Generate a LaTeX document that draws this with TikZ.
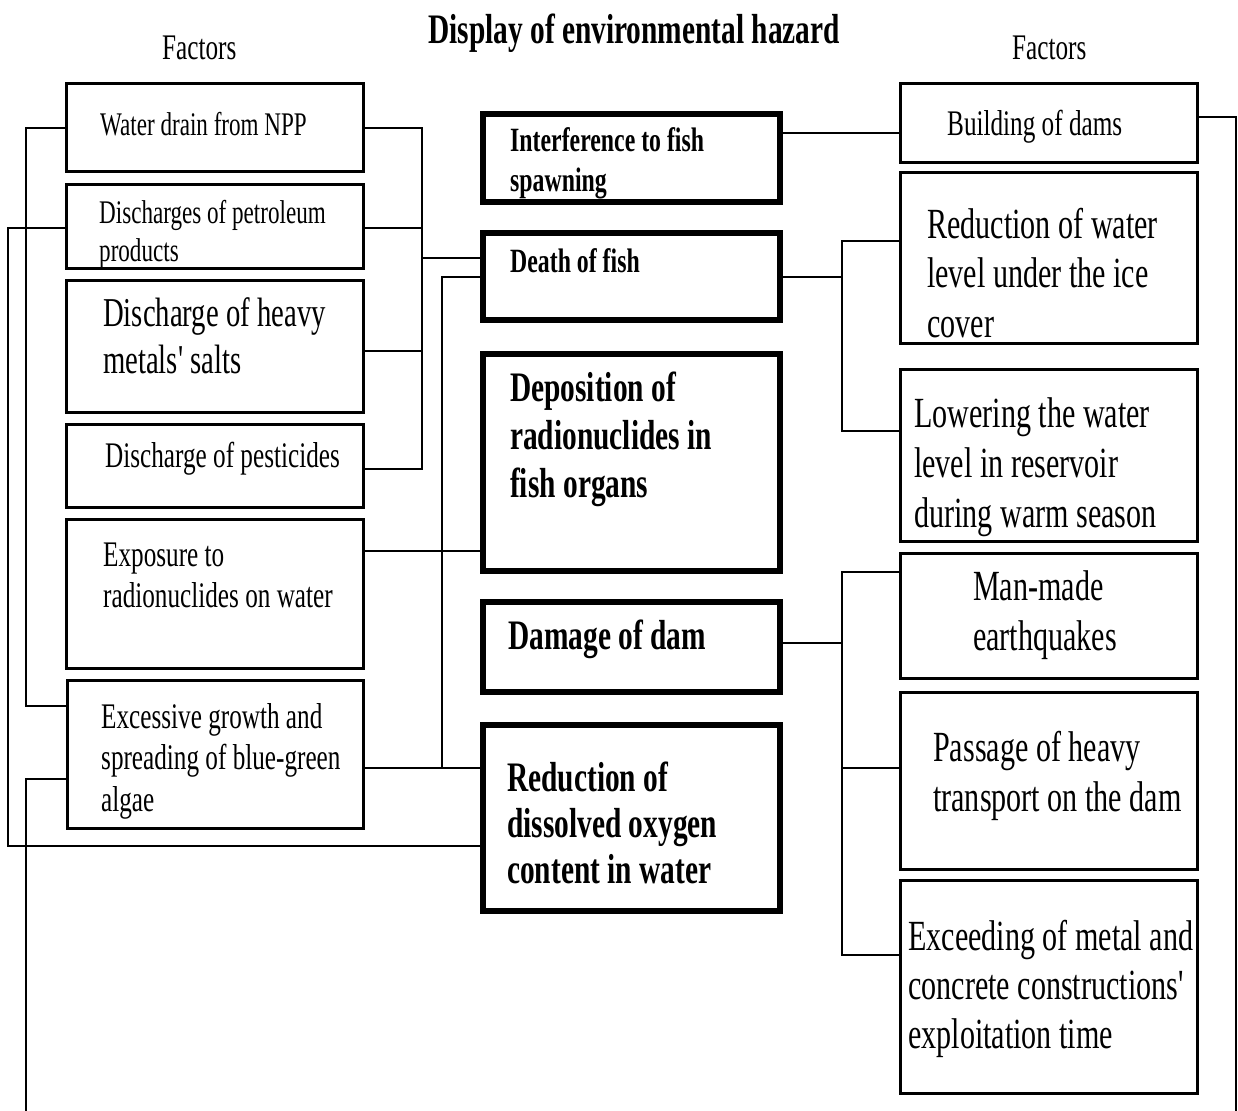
\documentclass[tikz,border=0pt]{standalone}
\usepackage{fontspec}
\newfontfamily\cf{Liberation Serif}[FakeStretch=0.70]
\newcommand\myfs[2]{\fontsize{#1}{#2}\selectfont}
\begin{document}
\begin{tikzpicture}[x=1pt,y=-1pt,
  lbox/.style={draw, line width=2.6pt, inner sep=0pt, anchor=north west, minimum width=297pt},
  cbox/.style={draw, line width=6pt, inner sep=0pt, anchor=north west, minimum width=297pt},
  rbox/.style={draw, line width=2.8pt, inner sep=0pt, anchor=north west, minimum width=297pt},
  conn/.style={draw, line width=2.5pt},
  txt/.style={inner sep=0pt, anchor=north west, align=left},
  ]
\fill[white] (0,0) rectangle (1238,1110);
\useasboundingbox (0,0) rectangle (1238,1110);

% titles
\node[txt, font=\cf\bfseries\myfs{42}{48}] (title) at (428,14) {Display of environmental hazard};
\node[txt, font=\cf\myfs{36}{41}] (facL) at (162,36) {Factors};
\node[txt, font=\cf\myfs{36}{41}] (facR) at (1012,36) {Factors};

% left boxes
\node[lbox, minimum height=88pt]  (L1) at (65,82) {};
\node[lbox, minimum height=84pt]  (L2) at (65,183) {};
\node[lbox, minimum height=132pt] (L3) at (65,279) {};
\node[lbox, minimum height=83pt]  (L4) at (65,423) {};
\node[lbox, minimum height=149pt] (L5) at (65,518) {};
\node[lbox, minimum height=148pt, minimum width=296pt] (L6) at (66,679) {};

\node[txt, font=\cf\myfs{33}{38}] (L1t) at (100,112) {Water drain from NPP};
\node[txt, font=\cf\myfs{33}{38}] (L2t) at (99,200) {Discharges of petroleum\\products};
\node[txt, font=\cf\myfs{41}{47}] (L3t) at (103,297) {Discharge of heavy\\metals' salts};
\node[txt, font=\cf\myfs{36}{41}] (L4t) at (105,442) {Discharge of pesticides};
\node[txt, font=\cf\myfs{36}{41}] (L5t) at (103,543) {Exposure to\\radionuclides on water};
\node[txt, font=\cf\myfs{36}{41.5}] (L6t) at (101,703) {Excessive growth and\\spreading of blue-green\\algae};

% centre boxes
\node[cbox, minimum height=88pt]  (C1) at (480,111) {};
\node[cbox, minimum height=87pt]  (C2) at (480,230) {};
\node[cbox, minimum height=217pt] (C3) at (480,351) {};
\node[cbox, minimum height=90pt]  (C4) at (480,599) {};
\node[cbox, minimum height=186pt] (C5) at (480,722) {};

\node[txt, font=\cf\bfseries\myfs{34}{40}] (C1t) at (510,127) {Interference to fish\\spawning};
\node[txt, font=\cf\bfseries\myfs{34}{40}] (C2t) at (510,248) {Death of fish};
\node[txt, font=\cf\bfseries\myfs{42}{48}] (C3t) at (510,372) {Deposition of\\radionuclides in\\fish organs};
\node[txt, font=\cf\bfseries\myfs{42}{48}] (C4t) at (508,620) {Damage of dam};
\node[txt, font=\cf\bfseries\myfs{42}{46}] (C5t) at (507,762) {Reduction of\\dissolved oxygen\\content in water};

% right boxes
\node[rbox, minimum height=79pt]  (R1) at (899,82) {};
\node[rbox, minimum height=171pt] (R2) at (899,171) {};
\node[rbox, minimum height=172pt] (R3) at (899,368) {};
\node[rbox, minimum height=125pt] (R4) at (899,552) {};
\node[rbox, minimum height=177pt] (R5) at (899,691) {};
\node[rbox, minimum height=213pt] (R6) at (899,879) {};

\node[txt, font=\cf\myfs{36}{41}] (R1t) at (947,110) {Building of dams};
\node[txt, font=\cf\myfs{43}{49.5}] (R2t) at (927,208) {Reduction of water\\level under the ice\\cover};
\node[txt, font=\cf\myfs{43}{50}] (R3t) at (914,397) {Lowering the water\\level in reservoir\\during warm season};
\node[txt, font=\cf\myfs{43}{50}] (R4t) at (973,570) {Man-made\\earthquakes};
\node[txt, font=\cf\myfs{43}{50}] (R5t) at (933,731) {Passage of heavy\\transport on the dam};
\node[txt, font=\cf\myfs{43}{49}] (R6t) at (908,920) {Exceeding of metal and\\concrete constructions'\\exploitation time};

% free ends
\coordinate (endL) at (26,1112);
\coordinate (endR) at (1236,1112);

% connectors left side
\draw[conn] (L1.east |- 0,128) -| (422,469) -- (L4.east |- 0,469);
\draw[conn] (L2.east |- 0,228) -- (422,228);
\draw[conn] (L3.east |- 0,351) -- (422,351);
\draw[conn] (422,258) -- (C2.west |- 0,258);
\draw[conn] (C2.west |- 0,277) -| (442,768);
\draw[conn] (L6.east |- 0,768) -- (C5.west |- 0,768);
\draw[conn] (L5.east |- 0,551) -- (C3.west |- 0,551);
\draw[conn] (L1.west |- 0,128) -| (26,706) -- (L6.west |- 0,706);
\draw[conn] (L2.west |- 0,228) -| (8,846) -- (C5.west |- 0,846);
\draw[conn] (L6.west |- 0,779) -| (endL);

% connectors right side
\draw[conn] (R1.east |- 0,117) -| (endR);
\draw[conn] (C1.east |- 0,133) -- (R1.west |- 0,133);
\draw[conn] (C2.east |- 0,277) -- (842,277);
\draw[conn] (R2.west |- 0,241) -| (842,431) -- (R3.west |- 0,431);
\draw[conn] (C4.east |- 0,643) -- (842,643);
\draw[conn] (R4.west |- 0,572) -| (842,955) -- (R6.west |- 0,955);
\draw[conn] (R5.west |- 0,768) -- (842,768);
\end{tikzpicture}
\end{document}
